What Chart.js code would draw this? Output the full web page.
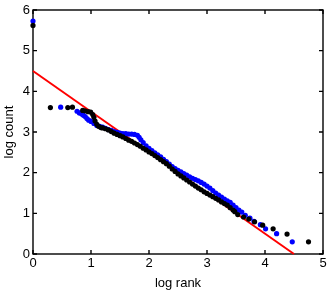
<!DOCTYPE html>
<html><head><meta charset="utf-8">
<script src="https://cdn.jsdelivr.net/npm/chart.js@4/dist/chart.umd.min.js"></script>
<style>html,body{margin:0;padding:0;background:#fff;}#wrap{width:332px;height:294px;}</style>
</head><body><div id="wrap"><canvas id="c" width="332" height="294"></canvas></div>
<script>
// ---- data ----
const xTickLabels = ['0', '1', '2', '3', '4', '5'];
const yTickLabels = ['0', '1', '2', '3', '4', '5', '6'];

const blackLogRank = [0, 0.30, 0.60, 0.68, 0.857, 0.897, 0.95, 0.994, 1.03, 1.05, 1.07, 1.10, 1.13, 1.17,
  1.20, 1.25, 1.30, 1.35, 1.40, 1.45, 1.50, 1.55, 1.60, 1.65, 1.70, 1.75, 1.80, 1.85, 1.90, 1.95,
  2.00, 2.05, 2.10, 2.15, 2.20, 2.25, 2.30, 2.35, 2.40, 2.45, 2.50, 2.55, 2.60, 2.65, 2.70, 2.75,
  2.80, 2.85, 2.90, 2.95, 3.00, 3.05, 3.10, 3.15, 3.20, 3.25, 3.30, 3.35, 3.40, 3.45, 3.48,
  3.53, 3.63, 3.72, 3.82, 3.96, 4.14, 4.38, 4.75];
const blackLogCount = [5.62, 3.60, 3.60, 3.61, 3.53, 3.52, 3.50, 3.49, 3.43, 3.36, 3.27, 3.19, 3.14, 3.11,
  3.10, 3.08, 3.05, 3.01, 2.97, 2.94, 2.91, 2.88, 2.84, 2.80, 2.77, 2.73, 2.69, 2.65, 2.60, 2.56,
  2.51, 2.47, 2.42, 2.37, 2.32, 2.27, 2.22, 2.16, 2.09, 2.03, 1.97, 1.92, 1.87, 1.82, 1.77, 1.72,
  1.67, 1.62, 1.58, 1.53, 1.49, 1.45, 1.41, 1.37, 1.33, 1.28, 1.24, 1.20, 1.14, 1.08, 1.04,
  0.97, 0.91, 0.86, 0.79, 0.71, 0.62, 0.49, 0.30];

const blueLogRank = [0, 0.477, 0.76, 0.80, 0.84, 0.87, 0.90, 0.93, 0.96, 1.00, 1.05, 1.10, 1.15, 1.20,
  1.25, 1.30, 1.35, 1.40, 1.45, 1.50, 1.55, 1.60, 1.65, 1.70, 1.75, 1.80, 1.83, 1.86, 1.90, 1.95,
  2.00, 2.05, 2.10, 2.15, 2.20, 2.25, 2.30, 2.35, 2.40, 2.45, 2.50, 2.55, 2.60, 2.65, 2.70, 2.75,
  2.80, 2.85, 2.90, 2.95, 3.00, 3.05, 3.10, 3.15, 3.20, 3.25, 3.30, 3.35, 3.40, 3.45, 3.50, 3.55,
  3.60, 3.66, 3.74, 3.81, 3.92, 4.01, 4.20, 4.47];
const blueLogCount = [5.73, 3.61, 3.51, 3.47, 3.44, 3.41, 3.38, 3.33, 3.29, 3.26, 3.21, 3.16, 3.14, 3.12,
  3.09, 3.06, 3.04, 3.01, 2.99, 2.97, 2.96, 2.96, 2.95, 2.95, 2.94, 2.92, 2.87, 2.81, 2.74, 2.66,
  2.60, 2.54, 2.49, 2.44, 2.39, 2.33, 2.27, 2.21, 2.15, 2.10, 2.06, 2.02, 1.98, 1.94, 1.90, 1.86,
  1.83, 1.80, 1.76, 1.72, 1.67, 1.62, 1.56, 1.50, 1.45, 1.40, 1.35, 1.31, 1.27, 1.20, 1.14, 1.08,
  1.03, 0.95, 0.88, 0.80, 0.72, 0.62, 0.50, 0.30];

const fitLogRank = [0, 4.5];
const fitLogCount = [4.5, 0];

const toPts = (xs, ys) => xs.map((x, i) => ({ x: x, y: ys[i] }));

const FONT = { family: "'Liberation Sans', Arial, Helvetica, sans-serif", size: 13 };

// MATLAB-style box with inward ticks on all four sides
const boxPlugin = {
  id: 'box',
  beforeDatasetsDraw(chart) {
    const { ctx, chartArea: a, scales: { x, y } } = chart;
    ctx.save();
    ctx.strokeStyle = '#000';
    ctx.lineWidth = 1.4;
    ctx.strokeRect(a.left, a.top, a.right - a.left, a.bottom - a.top);
    const tl = 4;
    ctx.beginPath();
    x.ticks.forEach(t => {
      const px = x.getPixelForValue(t.value);
      ctx.moveTo(px, a.bottom); ctx.lineTo(px, a.bottom - tl);
      ctx.moveTo(px, a.top); ctx.lineTo(px, a.top + tl);
    });
    y.ticks.forEach(t => {
      const py = y.getPixelForValue(t.value);
      ctx.moveTo(a.left, py); ctx.lineTo(a.left + tl, py);
      ctx.moveTo(a.right, py); ctx.lineTo(a.right - tl, py);
    });
    ctx.stroke();
    ctx.restore();
  }
};

new Chart(document.getElementById('c'), {
  type: 'scatter',
  data: {
    datasets: [
      { label: 'black', data: toPts(blackLogRank, blackLogCount), backgroundColor: '#000', borderColor: '#000',
        pointRadius: 2.6, pointBorderWidth: 0, showLine: false, clip: false },
      { label: 'blue', data: toPts(blueLogRank, blueLogCount), backgroundColor: '#0000ff', borderColor: '#0000ff',
        pointRadius: 2.6, pointBorderWidth: 0, showLine: false, clip: false },
      { label: 'fit', data: toPts(fitLogRank, fitLogCount), borderColor: '#ff0000', backgroundColor: '#ff0000',
        pointRadius: 0, borderWidth: 2, showLine: true, clip: false }
    ]
  },
  options: {
    responsive: false,
    animation: false,
    devicePixelRatio: 1,
    layout: { padding: { left: 0, right: 9, top: 10, bottom: 0 } },
    plugins: { legend: { display: false }, tooltip: { enabled: false } },
    scales: {
      x: {
        type: 'linear', position: 'bottom', min: 0, max: 5,
        grid: { display: false, drawTicks: false }, border: { display: false },
        ticks: { stepSize: 1, padding: 2, color: '#000', font: FONT, maxRotation: 0,
          callback: (v) => xTickLabels[v] },
        title: { display: true, text: 'log rank', color: '#000', font: FONT, padding: { top: 0, bottom: 3 } },
        afterFit: (s) => { s.height = 40; s.paddingLeft = 0; s.paddingRight = 0; }
      },
      y: {
        type: 'linear', position: 'left', min: 0, max: 6,
        grid: { display: false, drawTicks: false }, border: { display: false },
        ticks: { stepSize: 1, padding: 3, color: '#000', font: FONT,
          callback: (v) => yTickLabels[v] },
        title: { display: true, text: 'log count', color: '#000', font: FONT, padding: { top: 2, bottom: 0 } },
        afterFit: (s) => { s.width = 33; s.paddingTop = 0; s.paddingBottom = 0; }
      }
    }
  },
  plugins: [boxPlugin]
});
</script>
</body></html>
